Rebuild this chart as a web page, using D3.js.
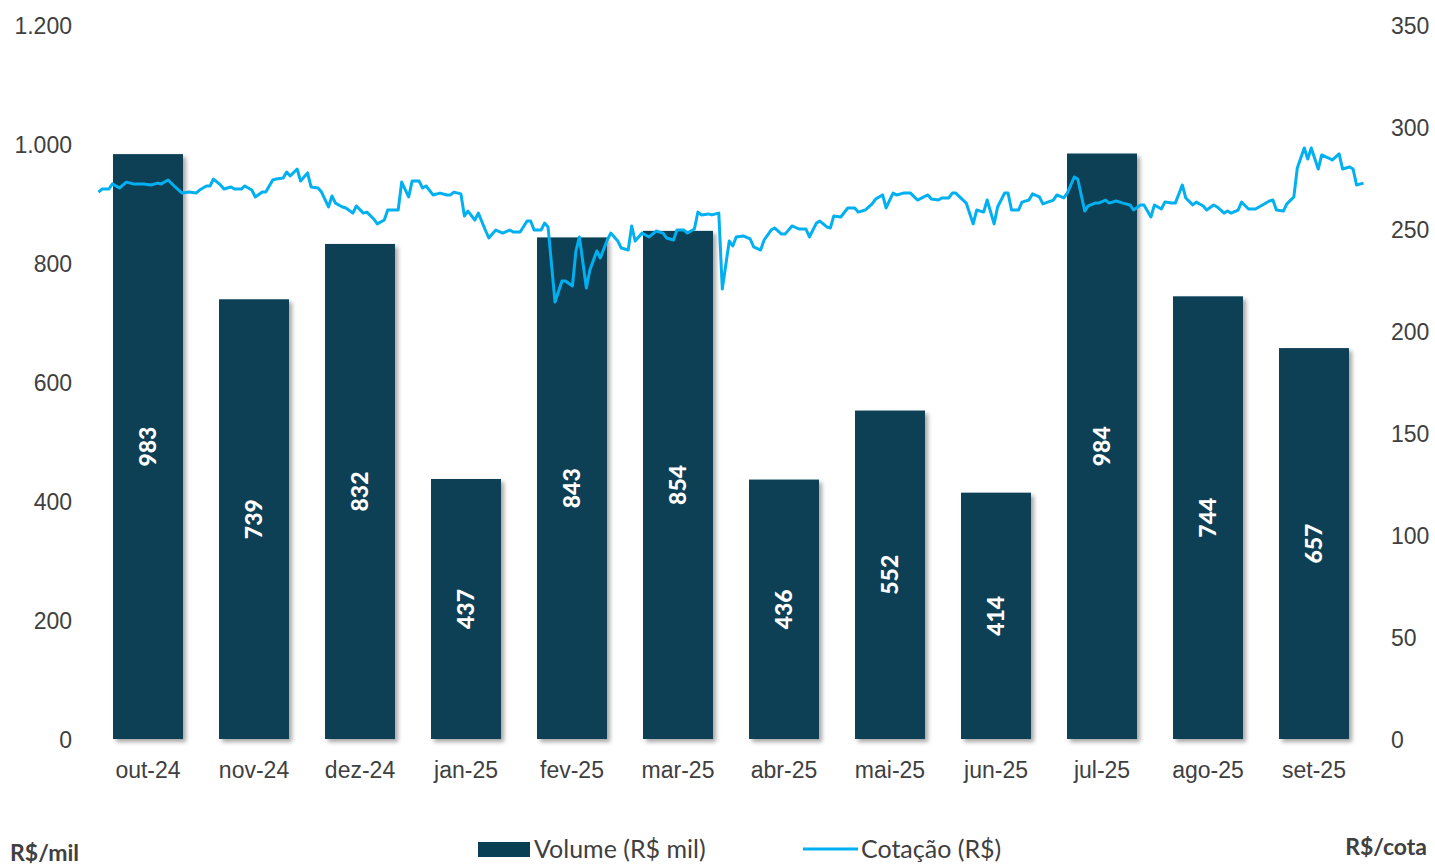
<!DOCTYPE html>
<html>
<head>
  <meta charset="utf-8">
  <title>Volume e Cotação</title>
  <script src="https://d3js.org/d3.v7.min.js"></script>
  <style>
    body { margin: 0; background: #fff; font-family: Lato, "Open Sans", sans-serif; }
    .tick-label { fill: #404040; font-size: 23px; }
    .bar-label { fill: #fff; font-size: 23px; font-weight: 900; }
    .legend-text { fill: #404040; font-size: 25px; }
    .unit { fill: #404040; font-size: 23px; font-weight: bold; }
  </style>
</head>
<body>
  <svg width="1435" height="867"></svg>
  <script>
    // volume mensal (R$ mil)
    const meses = ["out-24", "nov-24", "dez-24", "jan-25", "fev-25", "mar-25",
                   "abr-25", "mai-25", "jun-25", "jul-25", "ago-25", "set-25"];
    const volume = [983, 739, 832, 437, 843, 854, 436, 552, 414, 984, 744, 657];

    const ticksVolume = [0, 200, 400, 600, 800, 1000, 1200];
    const ticksCotacao = [0, 50, 100, 150, 200, 250, 300, 350];

    // cotação diária (R$) - dias contados a partir de 01/10/2024
    const diasCotacao = [
      1, 2, 4, 5, 7, 9, 11, 14, 16, 18, 19, 21, 23, 25, 27, 29, 30, 32, 33, 34,
      36, 37, 39, 40, 42, 43, 45, 46, 48, 49, 51, 52, 54, 55, 56, 58, 59, 61, 62, 64,
      65, 67, 68, 69, 71, 72, 74, 75, 77, 78, 80, 81, 83, 84, 87, 88, 90, 91, 93, 94,
      95, 97, 99, 101, 102, 103, 105, 106, 107, 109, 110, 112, 113, 115, 117, 119, 120, 122, 124, 125,
      126, 128, 129, 130, 132, 134, 135, 137, 138, 139, 141, 142, 144, 145, 147, 148, 150, 151, 153, 154,
      155, 157, 159, 161, 163, 164, 166, 167, 169, 170, 172, 173, 174, 176, 177, 179, 180, 182, 183, 184,
      186, 188, 189, 191, 192, 194, 195, 197, 198, 200, 202, 204, 205, 207, 208, 210, 211, 212, 214, 216,
      218, 219, 221, 223, 224, 226, 227, 229, 230, 232, 234, 236, 239, 240, 242, 243, 245, 246, 247, 250,
      252, 253, 255, 256, 258, 259, 261, 262, 263, 265, 266, 268, 269, 271, 272, 275, 276, 278, 279, 281,
      282, 284, 285, 287, 288, 290, 291, 293, 295, 297, 298, 300, 301, 303, 304, 306, 307, 309, 310, 312,
      313, 315, 316, 318, 319, 321, 322, 324, 325, 326, 328, 329, 331, 333, 335, 337, 338, 339, 341, 342,
      344, 345, 347, 348, 349, 351, 352, 354, 355, 357, 358, 360, 361, 362, 364
    ];
    const cotacao = [
      268.1, 269.6, 269.6, 272.1, 270.1, 273.0, 272.1, 272.1, 271.6, 272.5, 272.1, 274.0, 270.6, 267.6, 268.1, 267.6, 269.1, 271.1, 271.1, 274.5,
      271.6, 269.6, 270.6, 269.6, 269.6, 271.1, 269.1, 265.7, 268.1, 268.1, 274.0, 274.5, 275.0, 277.9, 276.0, 279.4, 273.5, 277.5, 270.6, 270.1,
      268.1, 260.8, 266.2, 262.7, 260.8, 260.3, 257.8, 261.3, 257.8, 258.3, 254.9, 252.5, 254.4, 259.3, 259.3, 273.0, 265.7, 273.5, 273.5, 270.1,
      271.1, 266.7, 267.6, 266.7, 266.7, 268.1, 267.2, 256.4, 258.8, 254.4, 257.8, 249.5, 245.6, 249.5, 248.0, 249.5, 248.5, 248.5, 253.9, 253.9,
      249.5, 249.5, 252.9, 251.0, 214.2, 224.5, 224.5, 222.1, 239.2, 246.1, 221.1, 229.9, 239.2, 235.8, 244.6, 248.0, 244.1, 240.7, 239.7, 251.5,
      244.1, 248.0, 246.1, 249.0, 248.0, 245.6, 244.6, 249.5, 249.5, 248.0, 250.0, 258.3, 256.9, 257.4, 256.9, 257.8, 220.6, 244.1, 241.7, 246.1,
      246.6, 245.1, 241.2, 239.7, 244.6, 249.5, 250.5, 247.5, 247.5, 251.5, 250.0, 250.0, 246.1, 252.9, 253.9, 251.0, 250.5, 256.4, 255.9, 260.3,
      260.3, 258.3, 259.3, 262.3, 264.7, 266.7, 260.3, 267.6, 266.7, 267.6, 267.6, 264.2, 266.7, 264.7, 264.2, 265.2, 265.2, 267.6, 267.6, 262.7,
      252.5, 259.3, 258.3, 264.2, 252.5, 260.8, 267.6, 267.6, 259.3, 259.3, 263.2, 264.2, 267.2, 265.7, 262.3, 264.2, 266.7, 265.2, 267.6, 275.5,
      274.5, 258.8, 261.3, 262.7, 262.7, 264.2, 262.7, 263.7, 262.7, 261.8, 259.3, 261.8, 261.8, 255.9, 261.8, 259.8, 263.2, 262.7, 262.7, 271.6,
      265.2, 261.8, 263.2, 261.3, 259.3, 261.8, 260.8, 257.8, 258.8, 257.8, 259.3, 263.2, 259.8, 259.8, 261.8, 263.7, 264.2, 259.3, 258.8, 262.3,
      265.7, 279.9, 289.7, 284.3, 289.7, 279.4, 286.3, 284.8, 283.8, 286.8, 279.4, 280.4, 279.4, 271.6, 272.5
    ];

    const svg = d3.select("svg");
    const W = 1435, H = 867;
    const margin = {top: 25, right: 68, bottom: 128, left: 95};
    const x0 = margin.left, x1 = W - margin.right;
    const y0 = H - margin.bottom, y1 = margin.top;

    const x = d3.scaleBand().domain(meses).range([x0, x1])
      .paddingInner(0.34).paddingOuter(0.17);
    const yVol = d3.scaleLinear().domain([0, 1200]).range([y0, y1]);
    const yCot = d3.scaleLinear().domain([0, 350]).range([y0, y1]);

    const inicio = new Date(2024, 9, 1);
    const xt = d3.scaleTime().domain([inicio, new Date(2025, 9, 1)]).range([x0, x1]);

    const defs = svg.append("defs");
    defs.append("filter").attr("id", "sombra")
      .attr("x", "-10%").attr("y", "-10%").attr("width", "130%").attr("height", "130%")
      .append("feDropShadow")
      .attr("dx", 3).attr("dy", 3).attr("stdDeviation", 2)
      .attr("flood-color", "#000").attr("flood-opacity", 0.35);

    // eixo esquerdo
    const axL = svg.append("g").attr("transform", `translate(${x0 - 23},0)`)
      .call(d3.axisLeft(yVol).tickValues(ticksVolume).tickSize(0)
        .tickFormat(d => d3.format(",")(d).replace(",", ".")));
    axL.select(".domain").remove();
    axL.selectAll("text").attr("class", "tick-label").attr("x", 0).attr("dy", "0.35em");

    // eixo direito
    const axR = svg.append("g").attr("transform", `translate(${x1 + 24},0)`)
      .call(d3.axisRight(yCot).tickValues(ticksCotacao).tickSize(0));
    axR.select(".domain").remove();
    axR.selectAll("text").attr("class", "tick-label").attr("x", 0).attr("dy", "0.35em");

    // eixo x
    const axB = svg.append("g").attr("transform", `translate(0,${y0 + 31})`)
      .call(d3.axisBottom(x).tickSize(0));
    axB.select(".domain").remove();
    axB.selectAll("text").attr("class", "tick-label").attr("y", 0).attr("dy", "0.35em");

    // barras
    svg.append("g").selectAll("rect")
      .data(volume)
      .join("rect")
      .attr("x", (d, i) => x(meses[i]))
      .attr("y", d => yVol(d))
      .attr("width", x.bandwidth())
      .attr("height", d => yVol(0) - yVol(d))
      .attr("fill", "#083f55")
      .attr("filter", "url(#sombra)");

    // linha da cotação
    const serie = diasCotacao.map((d, i) => ({ data: d3.timeDay.offset(inicio, d), v: cotacao[i] }));
    svg.append("path")
      .datum(serie)
      .attr("fill", "none")
      .attr("stroke", "#00b0f0")
      .attr("stroke-width", 3)
      .attr("stroke-linejoin", "round")
      .attr("d", d3.line().x(d => xt(d.data)).y(d => yCot(d.v)));

    // rótulos das barras
    svg.append("g").selectAll("text")
      .data(volume)
      .join("text")
      .attr("class", "bar-label")
      .attr("text-anchor", "middle")
      .attr("dy", "0.35em")
      .attr("transform", (d, i) => {
        const cx = x(meses[i]) + x.bandwidth() / 2;
        const cy = (yVol(d) + yVol(0)) / 2;
        return `translate(${cx},${cy}) rotate(-90)`;
      })
      .text(d => d);

    // legenda
    const leg = svg.append("g");
    leg.append("rect").attr("x", 478).attr("y", 842).attr("width", 52).attr("height", 15).attr("fill", "#083f55");
    leg.append("text").attr("class", "legend-text").attr("x", 534).attr("y", 849).attr("dy", "0.35em").text("Volume (R$ mil)");
    leg.append("line").attr("x1", 803).attr("x2", 858).attr("y1", 849).attr("y2", 849)
      .attr("stroke", "#00b0f0").attr("stroke-width", 3);
    leg.append("text").attr("class", "legend-text").attr("x", 861).attr("y", 849).attr("dy", "0.35em").text("Cotação (R$)");

    svg.append("text").attr("class", "unit").attr("x", 10).attr("y", 861).text("R$/mil");
    svg.append("text").attr("class", "unit").attr("x", 1427).attr("y", 855).attr("text-anchor", "end").text("R$/cota");
  </script>
</body>
</html>
